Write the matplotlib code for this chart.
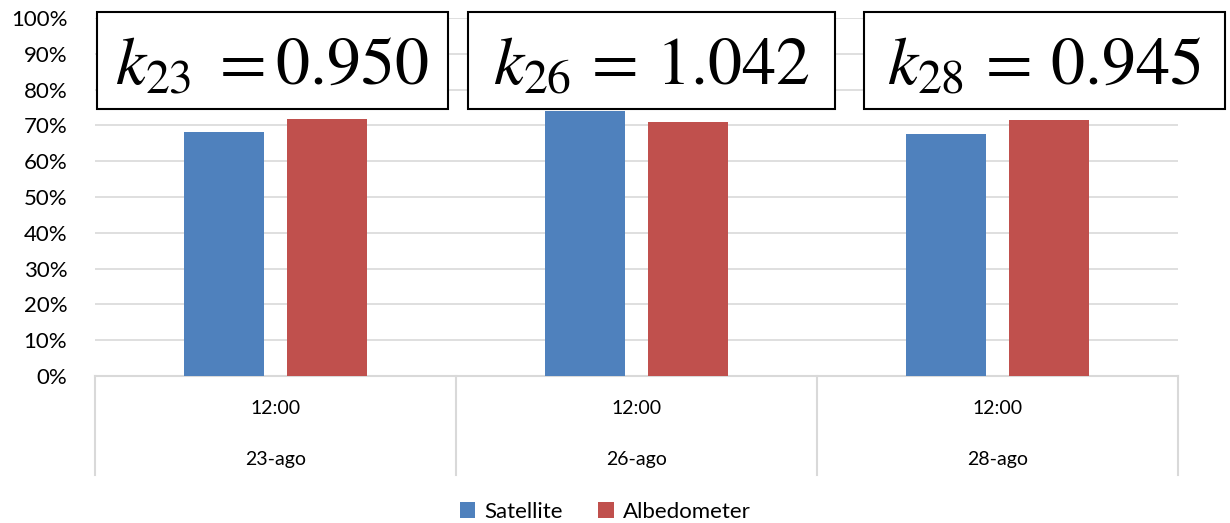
import matplotlib
matplotlib.use('Agg')
import matplotlib.pyplot as plt
from matplotlib.patches import Rectangle
from matplotlib.ticker import PercentFormatter
import numpy as np

plt.rcParams['font.family'] = ['Lato', 'DejaVu Sans']
plt.rcParams['mathtext.fontset'] = 'stix'

# data
dates = ['23-ago', '26-ago', '28-ago']
hours = ['12:00', '12:00', '12:00']
satellite = [0.682, 0.740, 0.675]
albedometer = [0.718, 0.710, 0.714]
k_labels = [r'$k_{23}\;{=}0.950$', r'$k_{26}\,=\,1.042$', r'$k_{28}\,=\,0.945$']

W, H = 1230, 523
fig = plt.figure(figsize=(W / 100, H / 100), dpi=100)

# plot area in pixels: x 95..1178, y 18..376
ax = fig.add_axes([95 / W, (H - 376) / H, (1178 - 95) / W, 358 / H])

x = np.arange(len(dates))
bw = 0.222
off = 0.143
ax.bar(x - off, satellite, bw, color='#4f81bd', label='Satellite', zorder=3)
ax.bar(x + off, albedometer, bw, color='#c0504d', label='Albedometer', zorder=3)

ax.set_xlim(-0.5, len(dates) - 0.5)
ax.set_ylim(0, 1)
ax.set_yticks(np.arange(0, 1.01, 0.1))
ax.yaxis.set_major_formatter(PercentFormatter(1.0, decimals=0))
ax.tick_params(axis='y', length=0, labelsize=16, pad=20)
ax.set_xticks([])
ax.grid(axis='y', color='#d9d9d9', linewidth=1.2, zorder=0)
for s in ax.spines.values():
    s.set_visible(False)

# category table below the axis
depth = -(475 - 376) / 358
ax.plot([-0.5, len(dates) - 0.5], [0, 0], color='#d9d9d9', lw=1.5, clip_on=False, zorder=2)
for xv in np.arange(-0.5, len(dates), 1.0):
    ax.plot([xv, xv], [0, depth], color='#d9d9d9', lw=1.5, clip_on=False)
for i in range(len(dates)):
    ax.text(x[i], -(408 - 376) / 358, hours[i], ha='center', va='center', fontsize=14)
    ax.text(x[i], -(459 - 376) / 358, dates[i], ha='center', va='center', fontsize=14)

# ratio boxes
boxes = [(97, 448), (468, 835), (864, 1225)]
top, bot = 12, 109
for (x0, x1), lab in zip(boxes, k_labels):
    fig.patches.append(Rectangle((x0 / W, (H - bot) / H), (x1 - x0) / W, (bot - top) / H,
                                 transform=fig.transFigure, facecolor='white',
                                 edgecolor='black', linewidth=1.5, zorder=5))
    fig.text((x0 + x1) / 2 / W, (H - 65) / H, lab, ha='center', va='center',
             fontsize=49, zorder=6)

fig.legend(loc='center', bbox_to_anchor=(605 / W, (H - 512) / H), ncol=2,
           frameon=False, fontsize=16, handlelength=0.7, handleheight=0.7,
           handletextpad=0.4, columnspacing=1.6)

fig.savefig('out.png', dpi=100)
